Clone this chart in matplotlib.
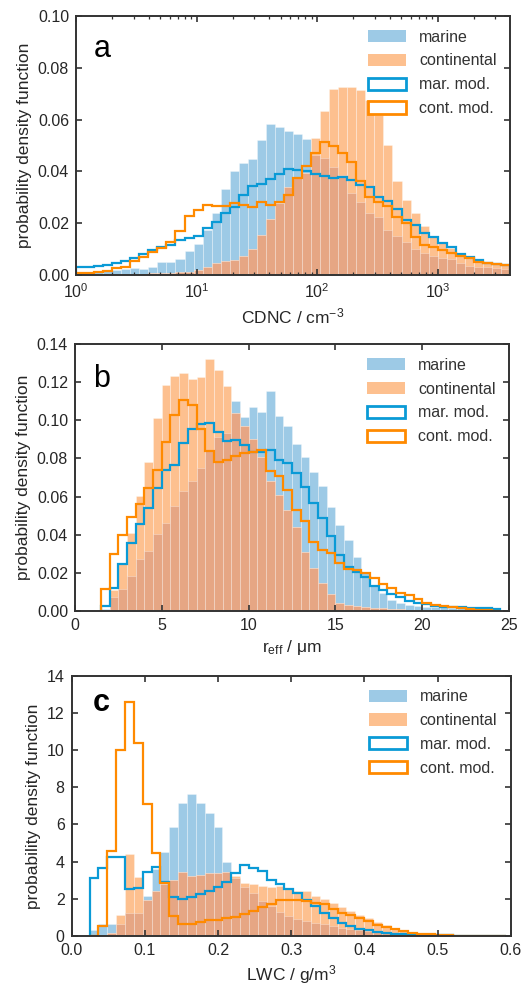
import numpy as np
import matplotlib
matplotlib.use("Agg")
import matplotlib.pyplot as plt
from matplotlib.patches import Patch
from matplotlib.ticker import FormatStrFormatter, MultipleLocator

plt.rcParams['font.family'] = ['Liberation Sans', 'DejaVu Sans']
plt.rcParams['mathtext.fontset'] = 'custom'
plt.rcParams['mathtext.rm'] = 'Liberation Sans'
plt.rcParams['mathtext.it'] = 'Liberation Sans'
plt.rcParams['mathtext.default'] = 'regular'

# ---- data ----
# (a) CDNC, 48 log bins from 10^0 to 10^3.6
cdnc_log_lo, cdnc_log_hi = 0.0, 3.6
marine_a = [0.001, 0.001, 0.0012, 0.0015, 0.0019, 0.0023, 0.0028, 0.0023, 0.0032, 0.0049,
            0.005, 0.006, 0.0091, 0.0118, 0.0174, 0.0238, 0.0332, 0.040, 0.0432, 0.0448,
            0.0523, 0.0584, 0.057, 0.0555, 0.0543, 0.0525, 0.0462, 0.045, 0.0418, 0.0386,
            0.0315, 0.0283, 0.0238, 0.0225, 0.0174, 0.0152, 0.0129, 0.010, 0.0084, 0.0075,
            0.0064, 0.006, 0.0045, 0.0036, 0.0032, 0.003, 0.0027, 0.0025]
continental_a = [0.0, 0.0, 0.0, 0.0002, 0.0003, 0.0004, 0.0005, 0.0005, 0.0006, 0.0007,
                 0.0008, 0.001, 0.0013, 0.0019, 0.0032, 0.0048, 0.0054, 0.0058, 0.0075, 0.010,
                 0.0153, 0.0215, 0.0279, 0.034, 0.0373, 0.0393, 0.053, 0.0634, 0.072, 0.0725,
                 0.0725, 0.0714, 0.0676, 0.0618, 0.0502, 0.0364, 0.029, 0.0238, 0.0189, 0.0148,
                 0.0122, 0.0103, 0.0084, 0.0071, 0.0058, 0.005, 0.0045, 0.004]
mar_mod_a = [0.0030, 0.0032, 0.0036, 0.0040, 0.0048, 0.0055, 0.0064, 0.0080, 0.0097, 0.0110,
             0.0116, 0.0135, 0.0144, 0.0151, 0.0183, 0.0206, 0.0241, 0.0262, 0.0308, 0.0343,
             0.0353, 0.0371, 0.0390, 0.0410, 0.0407, 0.0400, 0.0390, 0.0383, 0.0373, 0.0380,
             0.0366, 0.0347, 0.0340, 0.0302, 0.0285, 0.0253, 0.0212, 0.0193, 0.0163, 0.0148,
             0.0122, 0.0110, 0.0081, 0.0070, 0.0058, 0.0045, 0.0043, 0.0039]
cont_mod_a = [0.0006, 0.0008, 0.0012, 0.0015, 0.0026, 0.0032, 0.0054, 0.0071, 0.0088, 0.0104,
              0.0127, 0.0170, 0.0228, 0.0251, 0.0270, 0.0268, 0.0266, 0.0279, 0.0270, 0.0264,
              0.0283, 0.0269, 0.0283, 0.0309, 0.0373, 0.0420, 0.0472, 0.0515, 0.0500, 0.0470,
              0.0438, 0.0364, 0.0302, 0.0283, 0.0266, 0.0223, 0.0200, 0.0148, 0.0116, 0.0110,
              0.0097, 0.0084, 0.0073, 0.0064, 0.0051, 0.0045, 0.0042, 0.0038]

# (b) effective radius, 0.5 um bins starting at 1.5 um
reff_first_edge, reff_bin = 1.5, 0.5
marine_b = [0.001, 0.007, 0.0116, 0.0184, 0.0272, 0.0314, 0.0403, 0.0463, 0.055, 0.0631,
            0.0683, 0.075, 0.0845, 0.0915, 0.0936, 0.110, 0.1016, 0.107, 0.1045, 0.1155,
            0.1023, 0.097, 0.0876, 0.0806, 0.073, 0.0657, 0.0547, 0.045, 0.0371, 0.028,
            0.0196, 0.013, 0.0095, 0.0056, 0.0039, 0.0032, 0.0026, 0.0021, 0.002, 0.0018,
            0.0016, 0.0014, 0.0012, 0.001, 0.0009, 0.0008]
continental_b = [0.0, 0.011, 0.025, 0.0406, 0.0605, 0.078, 0.101, 0.1185, 0.1235, 0.125,
                 0.122, 0.123, 0.132, 0.1265, 0.118, 0.104, 0.097, 0.09, 0.0806, 0.068,
                 0.0608, 0.0529, 0.0442, 0.031, 0.0222, 0.0144, 0.009, 0.0042, 0.003, 0.0025,
                 0.002, 0.0016, 0.0012, 0.001, 0.0008, 0.0006, 0.0005, 0.0004, 0.0003, 0.0003,
                 0.0002, 0.0002, 0.0001, 0.0001, 0.0001, 0.0]
mar_mod_b = [0.0026, 0.0117, 0.0244, 0.0357, 0.0456, 0.0538, 0.0643, 0.074, 0.0766, 0.0883,
             0.0953, 0.0981, 0.0985, 0.0941, 0.0894, 0.0897, 0.0871, 0.0836, 0.0835, 0.0845,
             0.079, 0.0775, 0.0725, 0.065, 0.0564, 0.0485, 0.0395, 0.0295, 0.0228, 0.0205,
             0.0179, 0.013, 0.011, 0.0086, 0.007, 0.0053, 0.0042, 0.0035, 0.0025, 0.0021,
             0.002, 0.0018, 0.0016, 0.0015, 0.0012, 0.001]
cont_mod_b = [0.0112, 0.0298, 0.0398, 0.0494, 0.056, 0.0643, 0.074, 0.0888, 0.1029, 0.1107,
              0.108, 0.0953, 0.0841, 0.0783, 0.079, 0.0813, 0.0827, 0.0835, 0.0847, 0.0732,
              0.071, 0.0634, 0.053, 0.047, 0.0363, 0.0319, 0.0301, 0.0253, 0.0217, 0.0214,
              0.020, 0.017, 0.014, 0.012, 0.0095, 0.008, 0.0063, 0.0042, 0.003, 0.0026,
              0.0021, 0.0016, 0.001, 0.0006, 0.0003, 0.0001]

# (c) LWC
lwc_first_edge, lwc_bin = 0.0245, 0.0121
marine_c = [0.32, 0.65, 0.65, 0.65, 1.22, 1.22, 2.15, 3.6, 4.53, 5.84,
            7.13, 7.63, 7.13, 6.6, 5.84, 4.0, 3.1, 2.66, 2.3, 1.9,
            1.6, 1.3, 1.1, 0.9, 0.8, 0.72, 0.65, 0.55, 0.45, 0.38,
            0.32, 0.25, 0.2, 0.16, 0.12, 0.1, 0.08, 0.06, 0.05, 0.04,
            0.03, 0.03, 0.02, 0.02, 0.02, 0.01, 0.01]
continental_c = [0.0, 0.0, 0.14, 1.13, 4.39, 3.19, 1.94, 2.44, 2.8, 3.0,
                 3.46, 3.23, 3.28, 3.37, 3.37, 3.46, 3.23, 2.84, 2.8, 2.7,
                 2.65, 2.7, 2.55, 2.42, 2.42, 2.15, 1.97, 1.8, 1.58, 1.35,
                 1.15, 0.95, 0.75, 0.57, 0.42, 0.3, 0.2, 0.14, 0.09, 0.07,
                 0.05, 0.04, 0.03, 0.02, 0.02, 0.01, 0.01]
mar_mod_c = [3.10, 3.64, 4.27, 4.23, 2.53, 2.56, 3.46, 3.73, 2.92, 2.08,
             1.97, 2.08, 2.26, 2.44, 2.62, 2.92, 3.41, 3.84, 3.64, 3.5,
             3.0, 2.78, 2.55, 2.3, 1.94, 1.6, 1.22, 0.99, 0.72, 0.54,
             0.39, 0.3, 0.23, 0.18, 0.13, 0.09, 0.07, 0.05, 0.04, 0.03,
             0.03, 0.02, 0.02, 0.02, 0.01, 0.01, 0.01]
cont_mod_c = [0.0, 0.56, 4.59, 10.0, 12.6, 10.38, 7.1, 4.44, 2.85, 1.1,
              0.65, 0.65, 0.73, 0.86, 0.86, 0.99, 1.04, 1.16, 1.35, 1.55,
              1.7, 1.93, 1.95, 1.95, 1.89, 1.8, 1.72, 1.44, 1.26, 1.11,
              0.99, 0.81, 0.57, 0.5, 0.36, 0.27, 0.18, 0.13, 0.09, 0.05,
              0.03, 0.02, 0.01, 0.0, 0.0, 0.0, 0.0]

labels = ['marine', 'continental', 'mar. mod.', 'cont. mod.']

# ---- style ----
MARINE = '#9dcae6'
CONT = '#fdc08f'
BOTH = '#e6a684'
MAR_LINE = '#0a9ad6'
CONT_LINE = '#ff8a00'
EDGE = (1, 1, 1, 0.35)
DARK = '#262626'


def draw_panel(ax, edges, marine, cont, mar_mod, cont_mod):
    marine = np.asarray(marine)
    cont = np.asarray(cont)
    w = np.diff(edges)
    ax.bar(edges[:-1], marine, w, align='edge', color=MARINE, edgecolor=EDGE, linewidth=0.6)
    ax.bar(edges[:-1], cont, w, align='edge', color=CONT, edgecolor=EDGE, linewidth=0.6)
    ax.bar(edges[:-1], np.minimum(marine, cont), w, align='edge', color=BOTH,
           edgecolor=EDGE, linewidth=0.6)
    ax.stairs(mar_mod, edges, color=MAR_LINE, lw=1.6, baseline=0)
    ax.stairs(cont_mod, edges, color=CONT_LINE, lw=1.6, baseline=0)

    handles = [Patch(facecolor=MARINE, edgecolor='none'),
               Patch(facecolor=CONT, edgecolor='none'),
               Patch(facecolor='white', edgecolor=MAR_LINE, linewidth=2),
               Patch(facecolor='white', edgecolor=CONT_LINE, linewidth=2)]
    leg = ax.legend(handles, labels, loc='upper right', frameon=False, fontsize=11.5,
                    handlelength=2.4, handleheight=0.8, handletextpad=0.8,
                    labelspacing=0.55, borderaxespad=0.45)
    for t in leg.get_texts():
        t.set_color('#333333')

    for s in ax.spines.values():
        s.set_linewidth(1.4)
        s.set_color('#333333')
    ax.tick_params(which='both', direction='in', top=True, right=True, color='#333333',
                   labelsize=11.5, labelcolor=DARK, pad=5)
    ax.tick_params(which='major', length=4.5, width=1.2)
    ax.tick_params(which='minor', length=2.5, width=0.9)
    ax.set_ylabel('probability density function', fontsize=12.5, color=DARK)


fig = plt.figure(figsize=(5.29, 9.85), dpi=100)

# (a)
ax1 = fig.add_axes([0.1437, 0.7208, 0.8204, 0.2629])
edges_a = np.logspace(cdnc_log_lo, cdnc_log_hi, len(marine_a) + 1)
ax1.set_xscale('log')
draw_panel(ax1, edges_a, marine_a, continental_a, mar_mod_a, cont_mod_a)
ax1.set_xlim(10 ** cdnc_log_lo, 10 ** cdnc_log_hi)
ax1.set_ylim(0, 0.10)
ax1.yaxis.set_major_locator(MultipleLocator(0.02))
ax1.yaxis.set_major_formatter(FormatStrFormatter('%.2f'))
ax1.set_xlabel('CDNC / cm$^{-3}$', fontsize=12.5, color=DARK)
ax1.text(0.04, 0.843, 'a', transform=ax1.transAxes, fontsize=22, va='baseline')

# (b)
ax2 = fig.add_axes([0.1418, 0.3800, 0.8204, 0.2705])
edges_b = reff_first_edge + reff_bin * np.arange(len(marine_b) + 1)
draw_panel(ax2, edges_b, marine_b, continental_b, mar_mod_b, cont_mod_b)
ax2.set_xlim(0, 25)
ax2.set_ylim(0, 0.14)
ax2.xaxis.set_major_locator(MultipleLocator(5))
ax2.yaxis.set_major_locator(MultipleLocator(0.02))
ax2.yaxis.set_major_formatter(FormatStrFormatter('%.2f'))
ax2.set_xlabel('r$_{eff}$ / μm', fontsize=12.5, color=DARK)
ax2.text(0.041, 0.839, 'b', transform=ax2.transAxes, fontsize=22, va='baseline')

# (c)
ax3 = fig.add_axes([0.1355, 0.0497, 0.8299, 0.2643])
edges_c = lwc_first_edge + lwc_bin * np.arange(len(marine_c) + 1)
draw_panel(ax3, edges_c, marine_c, continental_c, mar_mod_c, cont_mod_c)
ax3.set_xlim(0, 0.6)
ax3.set_ylim(0, 14)
ax3.xaxis.set_major_locator(MultipleLocator(0.1))
ax3.xaxis.set_major_formatter(FormatStrFormatter('%.1f'))
ax3.yaxis.set_major_locator(MultipleLocator(2))
ax3.set_xlabel('LWC / g/m$^3$', fontsize=12.5, color=DARK)
ax3.text(0.049, 0.864, 'c', transform=ax3.transAxes, fontsize=22, va='baseline',
         fontweight='bold')

fig.savefig('out.png', dpi=100)
